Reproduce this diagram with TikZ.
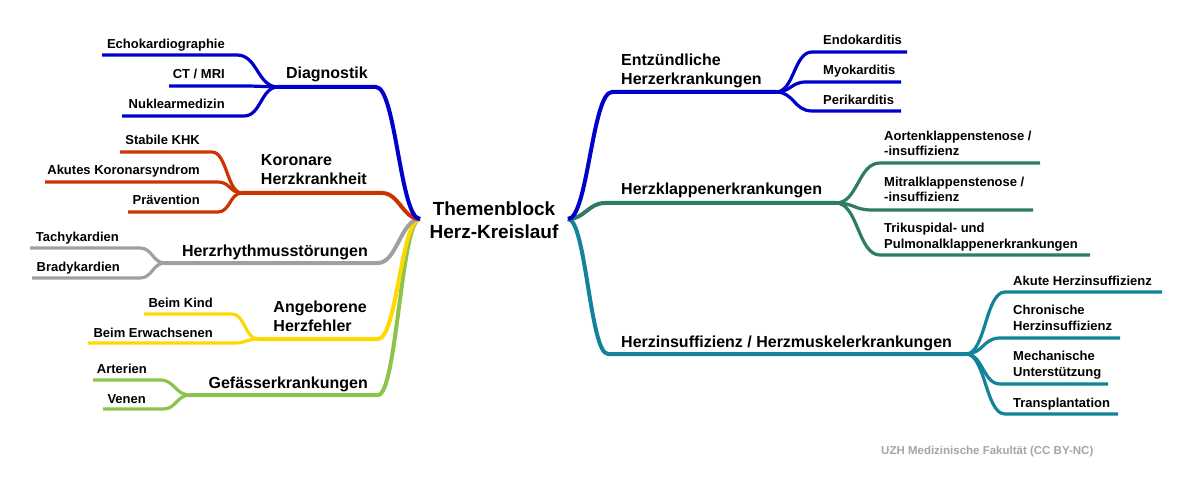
\documentclass[tikz,border=0pt]{standalone}
\usepackage{fontspec}
\setmainfont{Liberation Sans}
\usetikzlibrary{calc}
\definecolor{cdiag}{RGB}{0,0,204}
\definecolor{ckhk}{RGB}{204,51,0}
\definecolor{crhy}{RGB}{160,160,160}
\definecolor{cang}{RGB}{255,216,0}
\definecolor{cgef}{RGB}{140,195,75}
\definecolor{centz}{RGB}{0,0,204}
\definecolor{cklap}{RGB}{46,125,98}
\definecolor{cinsuf}{RGB}{18,131,152}
\definecolor{cfoot}{RGB}{165,165,165}
\tikzset{
  mmcurve/.style={to path={.. controls ($(\tikztostart)!#1!(\tikztotarget |- \tikztostart)$) and ($(\tikztotarget)!#1!(\tikztostart |- \tikztotarget)$) .. (\tikztotarget)}},
  mmcurve/.default=0.45,
  mainline/.style={line width=4pt, line join=round},
  subline/.style={line width=3.2pt, line join=round},
  mainlbl/.style={font=\fontsize{16}{19}\selectfont\bfseries, inner sep=0pt, align=left},
  sublbl/.style={font=\fontsize{13}{15.8}\selectfont\bfseries, inner sep=0pt, align=left},
  centerlbl/.style={font=\fontsize{19}{23}\selectfont\bfseries, inner sep=0pt, align=center},
  footlbl/.style={font=\fontsize{11.5}{14}\selectfont\bfseries, inner sep=0pt, text=cfoot},
}
\begin{document}
\begin{tikzpicture}[x=1pt,y=-1pt]
\fill[white] (0,0) rectangle (1191,489);
\useasboundingbox (0,0) rectangle (1191,489);

% centre junctions
\coordinate (cl) at (420,219);
\coordinate (cr) at (568,219);

% ---------------- left side coordinates
\coordinate (din) at (376,87);   \coordinate (dout) at (278,87);
\coordinate (echoin) at (237,55); \coordinate (echoout) at (102,55);
\coordinate (ctin) at (250,86);   \coordinate (ctout) at (169,86);
\coordinate (nukin) at (244,116); \coordinate (nukout) at (122,116);

\coordinate (kin) at (382,193);  \coordinate (kout) at (242,193);
\coordinate (stabin) at (212,152); \coordinate (stabout) at (120,152);
\coordinate (akin) at (218,182);   \coordinate (akout) at (45,182);
\coordinate (pravin) at (218,212); \coordinate (pravout) at (128,212);

\coordinate (hin) at (378,263);  \coordinate (hout) at (165,263);
\coordinate (tachin) at (140,248); \coordinate (tachout) at (30,248);
\coordinate (bradin) at (140,278); \coordinate (bradout) at (32,278);

\coordinate (ain) at (378,339);  \coordinate (aout) at (258,339);
\coordinate (kindin) at (232,314); \coordinate (kindout) at (144,314);
\coordinate (erwin) at (235,343);  \coordinate (erwout) at (88,343);

\coordinate (gin) at (378,395);  \coordinate (gout) at (190,395);
\coordinate (artin) at (160,380); \coordinate (artout) at (93,380);
\coordinate (venin) at (163,409); \coordinate (venout) at (103,409);

% ---------------- right side coordinates
\coordinate (ein) at (612,92);   \coordinate (eout) at (776,92);
\coordinate (endoin) at (812,52); \coordinate (endoout) at (907,52);
\coordinate (myoin) at (806,82);  \coordinate (myoout) at (901,82);
\coordinate (periin) at (812,111); \coordinate (periout) at (901,111);

\coordinate (klin) at (605,203); \coordinate (klout) at (836,203);
\coordinate (aorin) at (880,163); \coordinate (aorout) at (1040,163);
\coordinate (mitin) at (872,210); \coordinate (mitout) at (1033,210);
\coordinate (triin) at (880,255); \coordinate (triout) at (1090,255);

\coordinate (hiin) at (608,354); \coordinate (hiout) at (966,354);
\coordinate (akuin) at (1005,292); \coordinate (akuout) at (1162,292);
\coordinate (chrin) at (1000,338); \coordinate (chrout) at (1120,338);
\coordinate (mecin) at (1000,384); \coordinate (mecout) at (1108,384);
\coordinate (train) at (1005,414); \coordinate (traout) at (1118,414);

% ---------------- connectors, left
\draw[subline,cdiag] (dout) to[mmcurve=0.5] (echoin) -- (echoout);
\draw[subline,cdiag] (dout) to[mmcurve=0.5] (ctin) -- (ctout);
\draw[subline,cdiag] (dout) to[mmcurve=0.5] (nukin) -- (nukout);

\draw[subline,ckhk] (kout) to[mmcurve=0.5] (stabin) -- (stabout);
\draw[subline,ckhk] (kout) to[mmcurve=0.5] (akin) -- (akout);
\draw[subline,ckhk] (kout) to[mmcurve=0.5] (pravin) -- (pravout);

\draw[subline,crhy] (hout) to[mmcurve=0.5] (tachin) -- (tachout);
\draw[subline,crhy] (hout) to[mmcurve=0.5] (bradin) -- (bradout);

\draw[subline,cang] (aout) to[mmcurve=0.5] (kindin) -- (kindout);
\draw[subline,cang] (aout) to[mmcurve=0.5] (erwin) -- (erwout);

\draw[subline,cgef] (gout) to[mmcurve=0.5] (artin) -- (artout);
\draw[subline,cgef] (gout) to[mmcurve=0.5] (venin) -- (venout);

\draw[mainline,cgef] (cl) to[mmcurve] (gin) -- (gout);
\draw[mainline,cang] (cl) to[mmcurve] (ain) -- (aout);
\draw[mainline,crhy] (cl) to[mmcurve] (hin) -- (hout);
\draw[mainline,ckhk] (cl) to[mmcurve] (kin) -- (kout);
\draw[mainline,cdiag] (cl) to[mmcurve] (din) -- (dout);

% ---------------- connectors, right
\draw[subline,centz] (eout) to[mmcurve=0.5] (endoin) -- (endoout);
\draw[subline,centz] (eout) to[mmcurve=0.5] (myoin) -- (myoout);
\draw[subline,centz] (eout) to[mmcurve=0.5] (periin) -- (periout);

\draw[subline,cklap] (klout) to[mmcurve=0.5] (aorin) -- (aorout);
\draw[subline,cklap] (klout) to[mmcurve=0.5] (mitin) -- (mitout);
\draw[subline,cklap] (klout) to[mmcurve=0.5] (triin) -- (triout);

\draw[subline,cinsuf] (hiout) to[mmcurve=0.5] (akuin) -- (akuout);
\draw[subline,cinsuf] (hiout) to[mmcurve=0.5] (chrin) -- (chrout);
\draw[subline,cinsuf] (hiout) to[mmcurve=0.5] (mecin) -- (mecout);
\draw[subline,cinsuf] (hiout) to[mmcurve=0.5] (train) -- (traout);

\draw[mainline,cinsuf] (cr) to[mmcurve] (hiin) -- (hiout);
\draw[mainline,cklap] (cr) to[mmcurve] (klin) -- (klout);
\draw[mainline,centz] (cr) to[mmcurve] (ein) -- (eout);

% ---------------- labels (base = baseline of last line)
\node[centerlbl, anchor=base] (center) at (494,238) {Themenblock\\Herz-Kreislauf};

\node[mainlbl, anchor=base east] (ldiag) at (368,79) {Diagnostik};
\node[mainlbl, anchor=base east] (lkhk) at (367,185) {Koronare\\Herzkrankheit};
\node[mainlbl, anchor=base east] (lrhy) at (368,256) {Herzrhythmusstörungen};
\node[mainlbl, anchor=base east] (lang) at (367,331) {Angeborene\\Herzfehler};
\node[mainlbl, anchor=base east] (lgef) at (368,388) {Gefässerkrankungen};

\node[sublbl, anchor=base east] (lecho) at (225,49) {Echokardiographie};
\node[sublbl, anchor=base east] (lct) at (225,79) {CT / MRI};
\node[sublbl, anchor=base east] (lnuk) at (225,109) {Nuklearmedizin};
\node[sublbl, anchor=base east] (lstab) at (200,144.5) {Stabile KHK};
\node[sublbl, anchor=base east] (lak) at (200,174.5) {Akutes Koronarsyndrom};
\node[sublbl, anchor=base east] (lprav) at (200,204.5) {Prävention};
\node[sublbl, anchor=base east] (ltach) at (119,241) {Tachykardien};
\node[sublbl, anchor=base east] (lbrad) at (120,271) {Bradykardien};
\node[sublbl, anchor=base east] (lkind) at (213,307) {Beim Kind};
\node[sublbl, anchor=base east] (lerw) at (213,337) {Beim Erwachsenen};
\node[sublbl, anchor=base east] (lart) at (147,373) {Arterien};
\node[sublbl, anchor=base east] (lven) at (146,403) {Venen};

\node[mainlbl, anchor=base west] (lentz) at (621,85) {Entzündliche\\Herzerkrankungen};
\node[mainlbl, anchor=base west] (lklap) at (621,195) {Herzklappenerkrankungen};
\node[mainlbl, anchor=base west] (linsuf) at (621,347) {Herzinsuffizienz / Herzmuskelerkrankungen};

\node[sublbl, anchor=base west] (lendo) at (823,45) {Endokarditis};
\node[sublbl, anchor=base west] (lmyo) at (823,75) {Myokarditis};
\node[sublbl, anchor=base west] (lperi) at (823,105) {Perikarditis};
\node[sublbl, anchor=base west] (laor) at (884,156) {Aortenklappenstenose /\\-insuffizienz};
\node[sublbl, anchor=base west] (lmit) at (884,202) {Mitralklappenstenose /\\-insuffizienz};
\node[sublbl, anchor=base west] (ltri) at (884,248) {Trikuspidal- und\\Pulmonalklappenerkrankungen};
\node[sublbl, anchor=base west] (laku) at (1013,285) {Akute Herzinsuffizienz};
\node[sublbl, anchor=base west] (lchr) at (1013,330.5) {Chronische\\Herzinsuffizienz};
\node[sublbl, anchor=base west] (lmec) at (1013,376) {Mechanische\\Unterstützung};
\node[sublbl, anchor=base west] (ltra) at (1013,407) {Transplantation};

\node[footlbl, anchor=base west] (foot) at (881,454) {UZH Medizinische Fakultät (CC BY-NC)};
\end{tikzpicture}
\end{document}
